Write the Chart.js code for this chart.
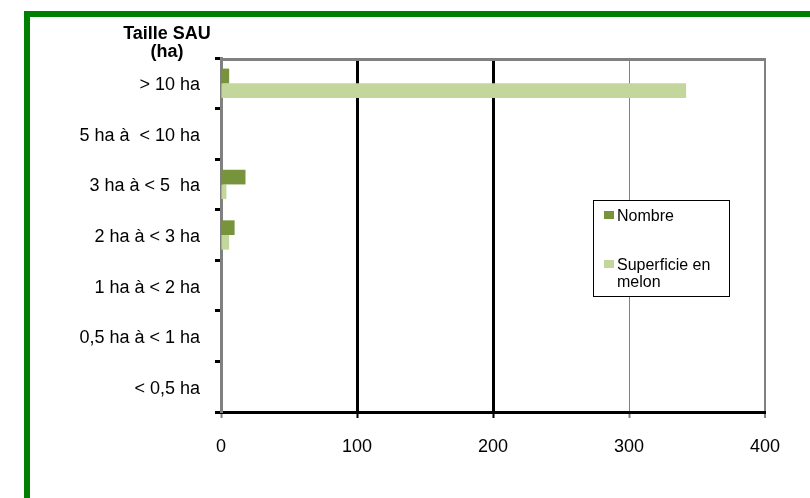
<!DOCTYPE html>
<html>
<head>
<meta charset="utf-8">
<script src="https://cdn.jsdelivr.net/npm/chart.js@4.4.1/dist/chart.umd.min.js"></script>
<style>
    html, body { margin: 0; padding: 0; background: #fff; }
    #wrap { position: relative; width: 810px; height: 498px; overflow: hidden; }
    #frame { position: absolute; left: 24px; top: 11px; width: 820px; height: 520px; border: 6px solid #008000; box-sizing: border-box; }
    #chartBox { position: absolute; left: 0; top: 0; width: 810px; height: 498px; }
</style>
</head>
<body>
<div id="wrap">
    <div id="frame"></div>
    <div id="chartBox"><canvas id="myChart"></canvas></div>
</div>
<script>
const titleLines = ['Taille SAU', '(ha)'];
const categories = ['> 10 ha', '5 ha à  < 10 ha', '3 ha à < 5  ha', '2 ha à < 3 ha', '1 ha à < 2 ha', '0,5 ha à < 1 ha', '< 0,5 ha'];
const nombre = [6, 0, 18, 10, 0, 0, 0];
const superficie = [342, 0, 4, 6, 0, 0, 0];
const xTicks = [0, 100, 200, 300, 400];

const FONT = "'Liberation Sans', Arial, sans-serif";

// gridline style per tick value
function gridColor(ctx) {
    const v = ctx.tick ? ctx.tick.value : null;
    if (v === 0) return 'rgba(0,0,0,0)';
    if (v === 100 || v === 200) return '#000';
    return '#808080';
}
function gridWidth(ctx) {
    const v = ctx.tick ? ctx.tick.value : null;
    if (v === 100 || v === 200) return 3;
    if (v === 400) return 2;
    return 1;
}

const titlePlugin = {
    id: 'sideTitle',
    afterDraw(chart) {
        const c = chart.ctx;
        c.save();
        c.font = 'bold 18px ' + FONT;
        c.fillStyle = '#000';
        c.textAlign = 'center';
        c.textBaseline = 'middle';
        titleLines.forEach((t, i) => c.fillText(t, 167, 34 + i * 18));
        c.restore();
    }
};

const framePlugin = {
    id: 'topBorder',
    afterDatasetsDraw(chart) {
        const a = chart.chartArea;
        const c = chart.ctx;
        c.save();
        c.strokeStyle = '#808080';
        c.lineWidth = 3;
        c.beginPath();
        c.moveTo(a.left - 1, a.top + 1.5);
        c.lineTo(a.right + 1, a.top + 1.5);
        c.stroke();
        c.restore();
    }
};

function wrapText(c, text, maxW) {
    const words = text.split(' ');
    const lines = [];
    let cur = '';
    words.forEach(w => {
        const test = cur ? cur + ' ' + w : w;
        if (c.measureText(test).width > maxW && cur) {
            lines.push(cur);
            cur = w;
        } else {
            cur = test;
        }
    });
    if (cur) lines.push(cur);
    return lines;
}

const legendPlugin = {
    id: 'boxLegend',
    afterDraw(chart) {
        const c = chart.ctx;
        const x = 593, y = 200, w = 136, h = 96;
        c.save();
        c.fillStyle = '#fff';
        c.fillRect(x, y, w, h);
        c.strokeStyle = '#000';
        c.lineWidth = 1;
        c.strokeRect(x + 0.5, y + 0.5, w, h);
        c.font = '16px ' + FONT;
        c.textBaseline = 'middle';
        c.textAlign = 'left';
        let ty = 216;
        chart.data.datasets.forEach(ds => {
            c.fillStyle = ds.backgroundColor;
            c.fillRect(604, ty - 5, 10, 8);
            c.fillStyle = '#000';
            const lines = wrapText(c, ds.label, 104);
            lines.forEach((l, i) => c.fillText(l, 617, ty + 1 + i * 17));
            ty += 49;
        });
        c.restore();
    }
};

const ctx = document.getElementById('myChart').getContext('2d');

const myChart = new Chart(ctx, {
    type: 'bar',
    data: {
        labels: categories,
        datasets: [
            {
                label: 'Nombre',
                data: nombre,
                backgroundColor: '#77933C',
                categoryPercentage: 0.58,
                barPercentage: 1
            },
            {
                label: 'Superficie en melon',
                data: superficie,
                backgroundColor: '#C3D69B',
                categoryPercentage: 0.58,
                barPercentage: 1
            }
        ]
    },
    options: {
        indexAxis: 'y',
        responsive: true,
        maintainAspectRatio: false,
        animation: false,
        layout: { padding: { left: 0, right: 45, top: 58, bottom: 0 } },
        plugins: {
            legend: { display: false },
            title: { display: false },
            tooltip: { enabled: false }
        },
        scales: {
            x: {
                min: 0,
                max: 400,
                afterBuildTicks: axis => { axis.ticks = xTicks.map(v => ({ value: v })); },
                afterFit: axis => { axis.height = 86; },
                grid: {
                    color: gridColor,
                    lineWidth: gridWidth,
                    tickColor: ctx => (ctx.tick && (ctx.tick.value === 100 || ctx.tick.value === 200)) ? '#000' : '#808080',
                    tickLength: 6,
                    tickWidth: 2
                },
                border: { display: true, color: '#000', width: 3 },
                ticks: {
                    color: '#000',
                    padding: 18,
                    font: { family: FONT, size: 18 }
                }
            },
            y: {
                afterFit: axis => { axis.width = 221; },
                grid: {
                    drawOnChartArea: false,
                    tickLength: 6,
                    tickColor: '#000',
                    tickWidth: 3
                },
                border: { display: true, color: '#808080', width: 3 },
                ticks: {
                    color: '#000',
                    padding: 15,
                    labelOffset: 2,
                    font: { family: FONT, size: 18 }
                }
            }
        }
    },
    plugins: [titlePlugin, framePlugin, legendPlugin]
});
</script>
</body>
</html>
